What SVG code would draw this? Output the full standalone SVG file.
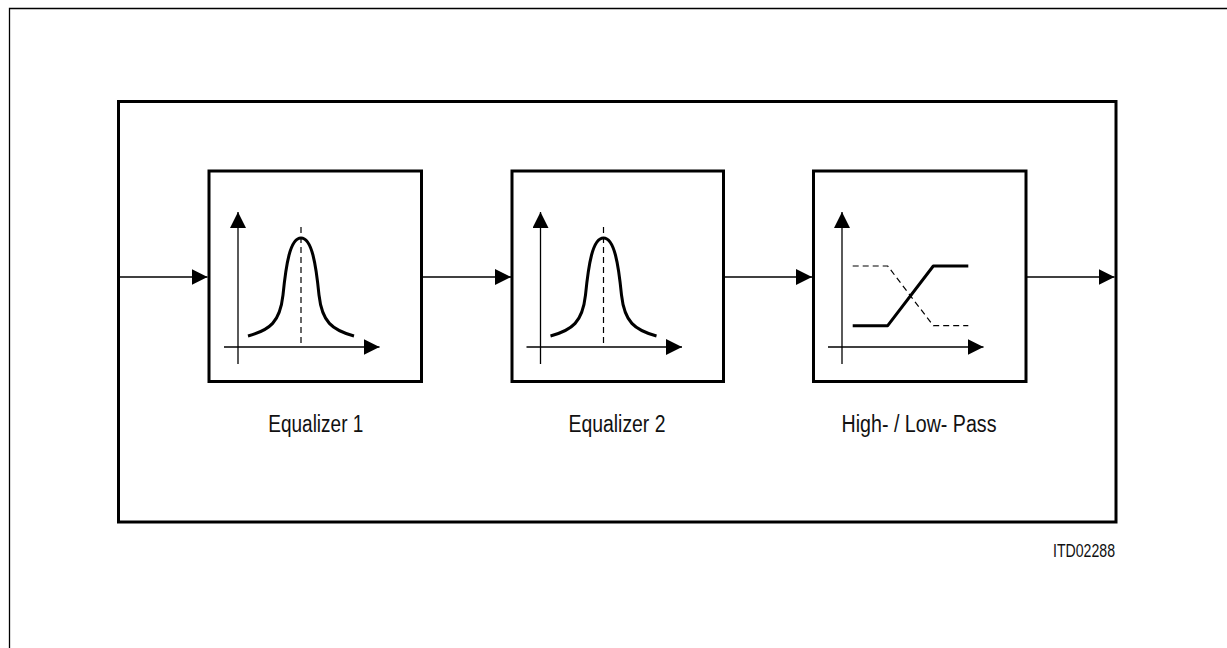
<svg xmlns="http://www.w3.org/2000/svg" xmlns:xlink="http://www.w3.org/1999/xlink" width="1227" height="648" viewBox="0 0 1227 648">
<style>
.frame{fill:none;stroke:#000;stroke-width:1.3}
.main{fill:none;stroke:#000;stroke-width:3}
.box{fill:#fff;stroke:#000;stroke-width:3}
.conn{fill:none;stroke:#000;stroke-width:1.3}
.axis{fill:none;stroke:#000;stroke-width:1.3}
.curve{fill:none;stroke:#000;stroke-width:3;stroke-linejoin:round}
.dash{fill:none;stroke:#000;stroke-width:1.2;stroke-dasharray:6,4}
.lbl{font-family:"Liberation Sans",Arial,sans-serif;font-size:23px;fill:#111}
.code{font-family:"Liberation Sans",Arial,sans-serif;font-size:18px;fill:#111}
</style>
<defs>
<marker id="ah" markerUnits="userSpaceOnUse" markerWidth="16" markerHeight="16" viewBox="0 0 14 14" refX="14" refY="7" orient="auto">
<path d="M0,0 L14,7 L0,14 Z" fill="#000"/>
</marker>
<g id="bell">
<line class="axis" x1="238" y1="364" x2="238" y2="212" marker-end="url(#ah)"/>
<line class="axis" x1="224" y1="347" x2="379.5" y2="347" marker-end="url(#ah)"/>
<line class="dash" x1="301" y1="227" x2="301" y2="347"/>
<path class="curve" d="M248,336 C270,330 280,322 283,295 C286,265 290,238 301,238 C312,238 316,265 319,295 C322,322 332,330 354,336"/>
</g>
</defs>
<rect width="1227" height="648" fill="#fff"/>
<path class="frame" d="M9.5,648 V8.5 H1227"/>
<rect id="main" class="main" x="118.5" y="101.5" width="997.5" height="420.5"/>
<g id="connectors">
<line class="conn" x1="120" y1="277" x2="207.5" y2="277" marker-end="url(#ah)"/>
<line class="conn" x1="422.5" y1="277" x2="511" y2="277" marker-end="url(#ah)"/>
<line class="conn" x1="725" y1="277" x2="812" y2="277" marker-end="url(#ah)"/>
<line class="conn" x1="1027" y1="277" x2="1114.5" y2="277" marker-end="url(#ah)"/>
</g>
<g id="eq1">
<rect class="box" x="209" y="171" width="212.5" height="210.5"/>
<use xlink:href="#bell"/>
<text class="lbl" x="315.8" y="432" text-anchor="middle" textLength="95" lengthAdjust="spacingAndGlyphs">Equalizer 1</text>
</g>
<g id="eq2">
<rect class="box" x="512" y="171" width="211.5" height="210.5"/>
<use xlink:href="#bell" transform="translate(302.5,0)"/>
<text class="lbl" x="617" y="432" text-anchor="middle" textLength="97" lengthAdjust="spacingAndGlyphs">Equalizer 2</text>
</g>
<g id="hlpass">
<rect class="box" x="813.5" y="171" width="212.5" height="210.5"/>
<line class="axis" x1="842" y1="364" x2="842" y2="212" marker-end="url(#ah)"/>
<line class="axis" x1="828" y1="347" x2="983.5" y2="347" marker-end="url(#ah)"/>
<path class="dash" d="M852.7,266 H887.7 L933.3,325.7 H968.3"/>
<path class="curve" d="M852.7,325.7 H887.7 L933.3,266 H968.3" stroke-linejoin="miter"/>
<text class="lbl" x="919" y="432" text-anchor="middle" textLength="155" lengthAdjust="spacingAndGlyphs">High- / Low- Pass</text>
</g>
<text id="code" class="code" x="1115" y="557" text-anchor="end" textLength="62" lengthAdjust="spacingAndGlyphs">ITD02288</text>
</svg>
